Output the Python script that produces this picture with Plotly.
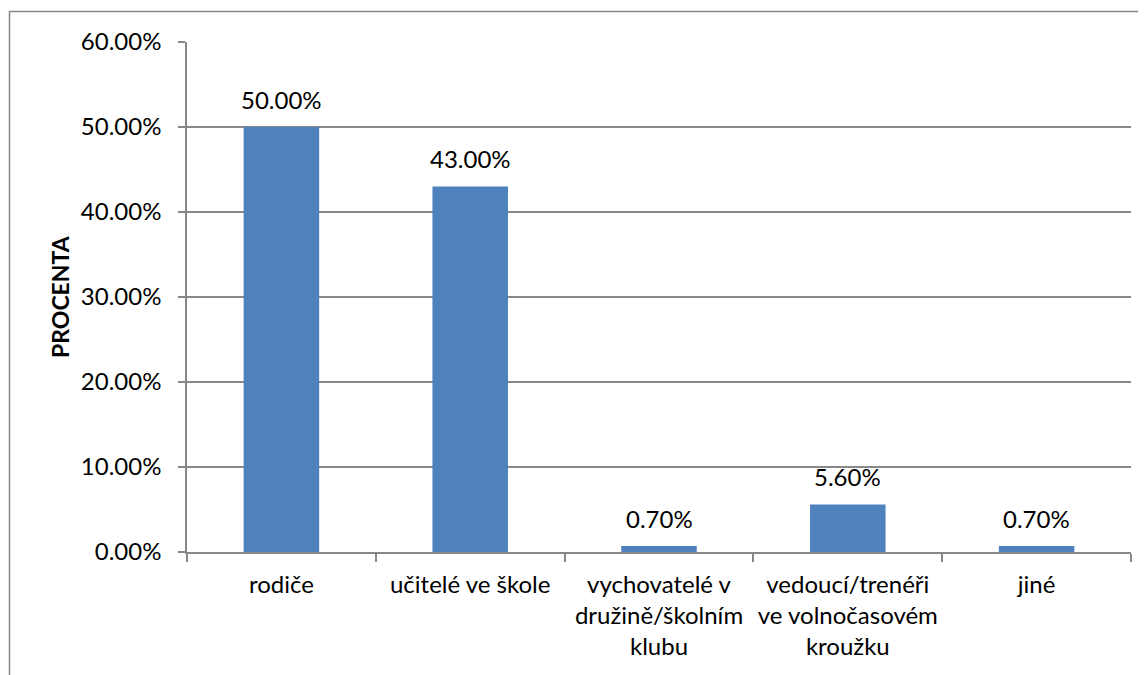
import plotly.graph_objects as go

categories = ["rodiče", "učitelé ve škole", "vychovatelé v<br>družině/školním<br>klubu",
              "vedoucí/trenéři<br>ve volnočasovém<br>kroužku", "jiné"]
values = [0.50, 0.43, 0.007, 0.056, 0.007]
labels = ["50.00%", "43.00%", "0.70%", "5.60%", "0.70%"]
y_ticks = [0, 0.1, 0.2, 0.3, 0.4, 0.5, 0.6]
y_tick_labels = ["0.00%", "10.00%", "20.00%", "30.00%", "40.00%", "50.00%", "60.00%"]

FONT = "Lato"
OFF = 8  # page body margin
W, H = 1146 - OFF, 675 - OFF
L, T = 187 - OFF, 42 - OFF
R = W - (1131 - OFF)
B = H - (552 - OFF)
GRAY = "#888888"
FS = 24

fig = go.Figure(go.Bar(
    x=categories, y=values,
    marker=dict(color="#4F81BD", line=dict(width=0)),
    hoverinfo="skip",
))

for c, v, t in zip(categories, values, labels):
    fig.add_annotation(x=c, y=v, text=t, showarrow=False, yanchor="middle", yshift=28,
                       font=dict(family=FONT, size=FS, color="black"))

fig.add_annotation(x=(60 - 187) / 944, y=0.5, xref="paper", yref="paper", text="<b>PROCENTA</b>",
                   textangle=-90, showarrow=False, xanchor="center", yanchor="middle",
                   font=dict(family=FONT, size=23, color="black"))

fig.update_layout(
    width=W, height=H,
    margin=dict(l=L, r=R, t=T, b=B, autoexpand=False),
    paper_bgcolor="white", plot_bgcolor="white",
    bargap=0.6,
    showlegend=False,
    font=dict(family=FONT, size=FS, color="black"),
    xaxis=dict(
        showgrid=False, showline=True, linecolor=GRAY, linewidth=1.5,
        ticks="outside", tickson="boundaries", ticklen=8, tickcolor=GRAY, tickwidth=1.5,
        tickfont=dict(family=FONT, size=FS, color="black"), ticklabelstandoff=10,
        tickangle=0, automargin=False,
    ),
    yaxis=dict(
        range=[0, 0.6], tickvals=y_ticks, ticktext=y_tick_labels,
        showgrid=True, gridcolor=GRAY, gridwidth=1.5,
        showline=True, linecolor=GRAY, linewidth=1.5,
        ticks="outside", ticklen=7, tickcolor=GRAY, tickwidth=1.5,
        tickfont=dict(family=FONT, size=FS, color="black"), ticklabelstandoff=12,
        zeroline=False, automargin=False,
    ),
    shapes=[dict(type="rect", xref="paper", yref="paper",
                 x0=(9.5 - 187) / 944, x1=(1170 - 187) / 944,
                 y0=(552 - 700) / 510, y1=(552 - 11.5) / 510,
                 line=dict(color=GRAY, width=1.5), layer="below")],
)

fig.write_html("out.html")
